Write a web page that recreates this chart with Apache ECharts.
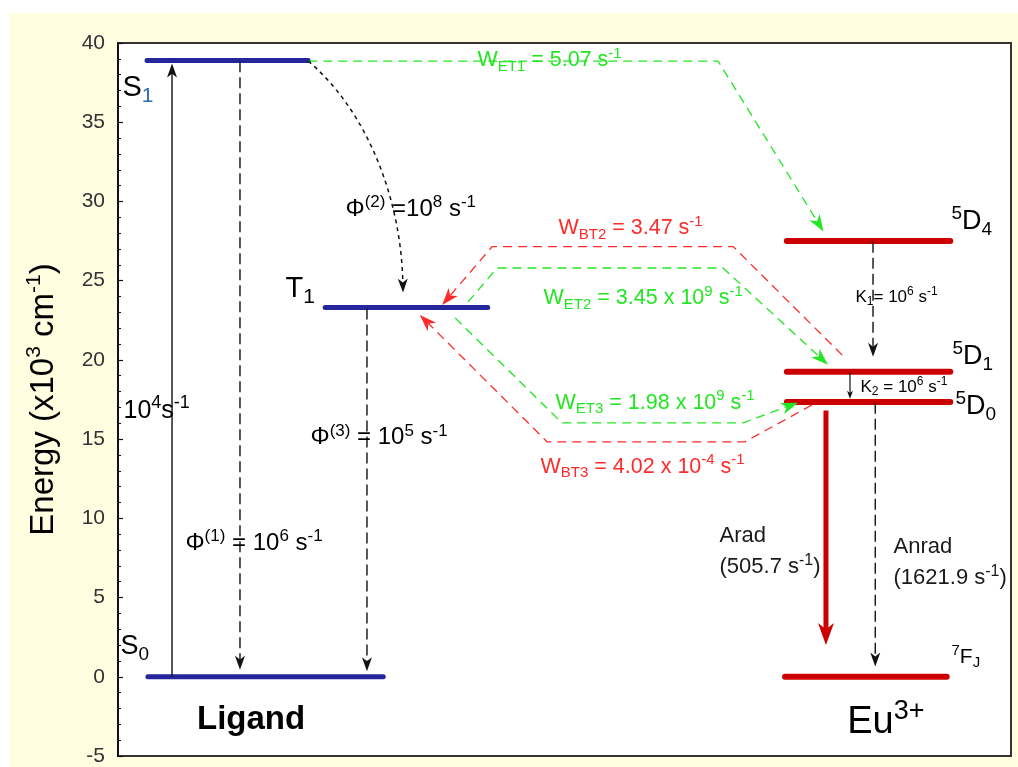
<!DOCTYPE html>
<html><head><meta charset="utf-8">
<script src="https://cdn.jsdelivr.net/npm/echarts@6/dist/echarts.min.js"></script>
<style>html,body{margin:0;padding:0;background:#fff}#c{width:1018px;height:767px}</style>
</head><body><div id="c"></div>
<script>
// ---- Energy levels (energy in 10^3 cm^-1, x in diagram units 0..100) ----
const levelNames  = ['S1', 'T1', 'S0', '5D4', '5D1', '5D0', '7FJ'];
const levelEnergy = [38.9, 23.3, 0, 27.5, 19.25, 17.35, 0];
const levelStart  = [3.25, 23.2, 3.35, 74.9, 74.9, 74.9, 74.7];
const levelEnd    = [21.3, 41.4, 29.7, 93.2, 93.2, 93.2, 92.8];
const levelGroup  = ['ligand', 'ligand', 'ligand', 'eu', 'eu', 'eu', 'eu'];

// ---- Transitions (paths in x / energy) ----
const transitionNames = ['excitation', 'phi1', 'phi3', 'K1', 'K2', 'Arad', 'Anrad', 'WET1', 'WBT2', 'WET2', 'WBT3', 'WET3'];
const transitionPaths = [
  [[6.05, 0], [6.05, 38.7]],
  [[13.66, 38.85], [13.66, 0.45]],
  [[27.88, 23.25], [27.88, 0.35]],
  [[84.55, 27.45], [84.55, 20.2]],
  [[81.97, 19.2], [81.97, 17.55]],
  [[79.28, 16.8], [79.28, 2.0]],
  [[84.8, 17.3], [84.8, 0.65]],
  [[21.3, 38.86], [67.2, 38.86], [79.0, 28.1]],
  [[81.1, 20.3], [68.9, 27.15], [41.9, 27.15], [36.3, 23.47]],
  [[39.2, 23.66], [42.45, 25.8], [67.75, 25.8], [79.5, 19.7]],
  [[77.7, 17.15], [70.2, 14.83], [48.05, 14.83], [33.8, 22.84]],
  [[37.75, 22.65], [49.7, 16.03], [70.0, 16.03], [76.15, 17.3]]
];
const transitionKind = ['solid', 'dash', 'dash', 'dash', 'tiny', 'radiative', 'dash', 'green', 'red', 'green', 'red', 'green'];
// S1 -> T1 intersystem crossing (cubic curve: start, control1, control2, end)
const iscCurve = [[21.3, 38.86], [28.0, 35.65], [31.7, 30.1], [31.92, 24.25]];

// ---- Annotations ----
const labelTexts = [
  'S{sb|1}', 'S{sub|0}', 'T{sub|1}',
  '10{sup|4}s{sup|-1}',
  'Φ{sup|(1)} = 10{sup|6} s{sup|-1}',
  'Φ{sup|(3)} = 10{sup|5} s{sup|-1}',
  'Φ{sup|(2)} =10{sup|8} s{sup|-1}',
  'W{sub|ET1} = 5.07 s{sup|-1}',
  'W{sub|BT2} = 3.47 s{sup|-1}',
  'W{sub|ET2} = 3.45 x 10{sup|9} s{sup|-1}',
  'W{sub|ET3} = 1.98 x 10{sup|9} s{sup|-1}',
  'W{sub|BT3} = 4.02 x 10{sup|-4} s{sup|-1}',
  '{sup|5}D{sub|4}', '{sup|5}D{sub|1}', '{sup|5}D{sub|0}',
  'K{sub|1}= 10{sup|6} s{sup|-1}',
  'K{sub|2} = 10{sup|6} s{sup|-1}',
  'Arad', '(505.7 s{sup|-1})',
  'Anrad', '(1621.9 s{sup|-1})',
  '{sup|7}F{sub|J}',
  'Ligand', 'Eu{sup|3+}'
];
const labelAnchor = [
  [0.45, 37.16], [0.22, 1.89], [18.7, 24.48],
  [0.56, 16.78], [7.5, 8.45], [21.5, 15.08], [25.42, 29.53],
  [40.2, 38.93], [49.27, 28.33], [47.6, 23.91], [48.94, 17.29], [47.26, 13.25],
  [93.28, 28.71], [93.39, 20.19], [93.73, 17.03],
  [82.53, 23.97], [83.09, 18.3],
  [67.3, 8.9], [67.3, 6.94], [86.79, 8.2], [86.79, 6.25],
  [93.28, 1.26],
  [14.9, -2.71], [81.6, -2.9]
];
const labelKind = [
  'state', 'state0', 'state',
  'rate25', 'rate', 'rate', 'rate',
  'wg', 'wr', 'wg', 'wg', 'wr',
  'dlev', 'dlev', 'dlev',
  'k', 'k',
  'rad', 'rad', 'rad', 'rad',
  'flev',
  'ligand', 'eu'
];

const yTicks = { min: -5, max: 40, interval: 5 };

// ---------------- styles ----------------
const FONT = "'Liberation Sans', Arial, sans-serif";
const INK = '#000';
const GREEN = '#22E622';
const RED = '#FF2B2B';
const levelColor = { ligand: '#25259c', eu: '#CC0000' };
const levelWidth = { ligand: 5, eu: 6 };
const transitionStyle = {
  solid:     { color: '#111', width: 1.4, dash: null,   headLen: 14, headWidth: 10 },
  dash:      { color: '#111', width: 1.4, dash: [11, 5], headLen: 14, headWidth: 10 },
  tiny:      { color: '#111', width: 1.2, dash: null,   headLen: 8,  headWidth: 6 },
  radiative: { color: '#CC0000', width: 5,   dash: null,   headLen: 22, headWidth: 16 },
  green:     { color: GREEN,     width: 1.3, dash: [9, 6], headLen: 17, headWidth: 12 },
  red:       { color: RED,       width: 1.3, dash: [9, 6], headLen: 17, headWidth: 12 }
};
const kindStyle = {
  state:  { fs: 29, color: INK },
  state0: { fs: 27, color: INK },
  rate25: { fs: 25, color: INK },
  rate:   { fs: 24, color: INK },
  wg:     { fs: 21.5, color: GREEN },
  wr:     { fs: 21.5, color: RED },
  dlev:   { fs: 27, color: INK },
  k:      { fs: 17, color: INK },
  rad:    { fs: 22, color: '#1a1a1a' },
  flev:   { fs: 21, color: INK },
  ligand: { fs: 33, color: '#000', bold: true, center: true },
  eu:     { fs: 38, color: '#000' }
};

function richFor(fs, color) {
  const s = Math.round(fs * 0.72);
  return {
    sup: { fontSize: s, lineHeight: s, verticalAlign: 'top', color: color, fontFamily: FONT },
    sub: { fontSize: s, lineHeight: s, verticalAlign: 'bottom', color: color, fontFamily: FONT },
    sb:  { fontSize: s, lineHeight: s, verticalAlign: 'bottom', color: '#2F6CB8', fontFamily: FONT }
  };
}
function labelStyle(kind, text) {
  const k = kindStyle[kind];
  return {
    show: true,
    formatter: text,
    position: k.center ? 'inside' : 'right',
    distance: 0,
    align: k.center ? 'center' : 'left',
    verticalAlign: 'middle',
    fontSize: k.fs,
    lineHeight: Math.round(k.fs * 1.3),
    fontWeight: k.bold ? 'bold' : 'normal',
    fontFamily: FONT,
    color: k.color,
    opacity: 1,
    rich: richFor(k.fs, k.color)
  };
}

function arrowShapes(pts, st) {
  const n = pts.length;
  const tip = pts[n - 1], prev = pts[n - 2];
  let dx = tip[0] - prev[0], dy = tip[1] - prev[1];
  const len = Math.hypot(dx, dy) || 1; dx /= len; dy /= len;
  const L = st.headLen, W = st.headWidth / 2;
  const base = [tip[0] - dx * L, tip[1] - dy * L];
  const notch = [tip[0] - dx * L * 0.72, tip[1] - dy * L * 0.72];
  const nx = -dy, ny = dx;
  const head = [tip, [base[0] + nx * W, base[1] + ny * W], notch, [base[0] - nx * W, base[1] - ny * W]];
  return { head: head, notch: notch };
}

const chart = echarts.init(document.getElementById('c'), null, { renderer: 'canvas' });

const option = {
  animation: false,
  backgroundColor: '#FFFEE0',
  graphic: [
    { type: 'rect', z: -1, shape: { x: 0, y: 0, width: 1018, height: 13 }, style: { fill: '#ffffff' } },
    { type: 'rect', z: -1, shape: { x: 0, y: 0, width: 9, height: 767 }, style: { fill: '#ffffff' } }
  ],
  grid: { left: 118, top: 43, right: 7, bottom: 11, show: true, backgroundColor: '#ffffff', borderColor: '#333', borderWidth: 2 },
  xAxis: { type: 'value', min: 0, max: 100, show: false },
  yAxis: {
    type: 'value', min: yTicks.min, max: yTicks.max, interval: yTicks.interval,
    axisLine: { show: true, lineStyle: { color: '#111', width: 2 } },
    axisTick: { show: true, inside: true, length: 5, lineStyle: { color: '#111', width: 1.2 } },
    minorTick: { show: true, splitNumber: 5, length: 3, lineStyle: { color: '#111', width: 1 } },
    splitLine: { show: false },
    axisLabel: { color: '#333', fontSize: 21, fontFamily: FONT, margin: 13 },
    name: 'Energy (x10{sup|3} cm{sup|-1})',
    nameLocation: 'middle',
    nameGap: 54,
    nameTextStyle: {
      fontSize: 33, color: '#000', fontFamily: FONT, lineHeight: 40,
      rich: { sup: { fontSize: 21, lineHeight: 21, verticalAlign: 'top', color: '#000', fontFamily: FONT } }
    }
  },
  series: [
    {
      type: 'custom', name: 'levels', silent: true, z: 3,
      data: levelNames.map((n, i) => [levelStart[i], levelEnergy[i], levelEnd[i]]),
      renderItem: function (params, api) {
        const i = params.dataIndex;
        const a = api.coord([levelStart[i], levelEnergy[i]]);
        const b = api.coord([levelEnd[i], levelEnergy[i]]);
        const g = levelGroup[i];
        return { type: 'line', shape: { x1: a[0], y1: a[1], x2: b[0], y2: b[1] },
          style: { stroke: levelColor[g], lineWidth: levelWidth[g], lineCap: 'round' } };
      }
    },
    {
      type: 'custom', name: 'transitions', silent: true, z: 4,
      data: transitionNames.map((n, i) => [transitionPaths[i][0][0], transitionPaths[i][0][1]]),
      renderItem: function (params, api) {
        const i = params.dataIndex;
        const st = transitionStyle[transitionKind[i]];
        const pts = transitionPaths[i].map(p => api.coord(p));
        const a = arrowShapes(pts, st);
        const linePts = pts.slice(0, pts.length - 1).concat([a.notch]);
        return { type: 'group', children: [
          { type: 'polyline', shape: { points: linePts },
            style: { stroke: st.color, lineWidth: st.width, lineDash: st.dash, fill: 'none' } },
          { type: 'polygon', shape: { points: a.head }, style: { fill: st.color } }
        ] };
      }
    },
    {
      type: 'custom', name: 'isc', silent: true, z: 4,
      data: [[iscCurve[0][0], iscCurve[0][1]]],
      renderItem: function (params, api) {
        const p = iscCurve.map(q => api.coord(q));
        const st = { color: '#111', headLen: 14, headWidth: 10 };
        const a = arrowShapes([p[2], p[3]], st);
        return { type: 'group', children: [
          { type: 'bezierCurve', shape: { x1: p[0][0], y1: p[0][1], cpx1: p[1][0], cpy1: p[1][1], cpx2: p[2][0], cpy2: p[2][1], x2: a.notch[0], y2: a.notch[1] },
            style: { stroke: '#111', lineWidth: 1.5, lineDash: [4, 4], fill: 'none' } },
          { type: 'polygon', shape: { points: a.head }, style: { fill: '#111' } }
        ] };
      }
    },
    {
      type: 'scatter', name: 'labels', silent: true, z: 6,
      symbolSize: 1,
      itemStyle: { color: 'rgba(0,0,0,0)', opacity: 1 },
      data: labelTexts.map((t, i) => ({ value: labelAnchor[i], label: labelStyle(labelKind[i], t) }))
    }
  ]
};
chart.setOption(option);
</script>
</body></html>
